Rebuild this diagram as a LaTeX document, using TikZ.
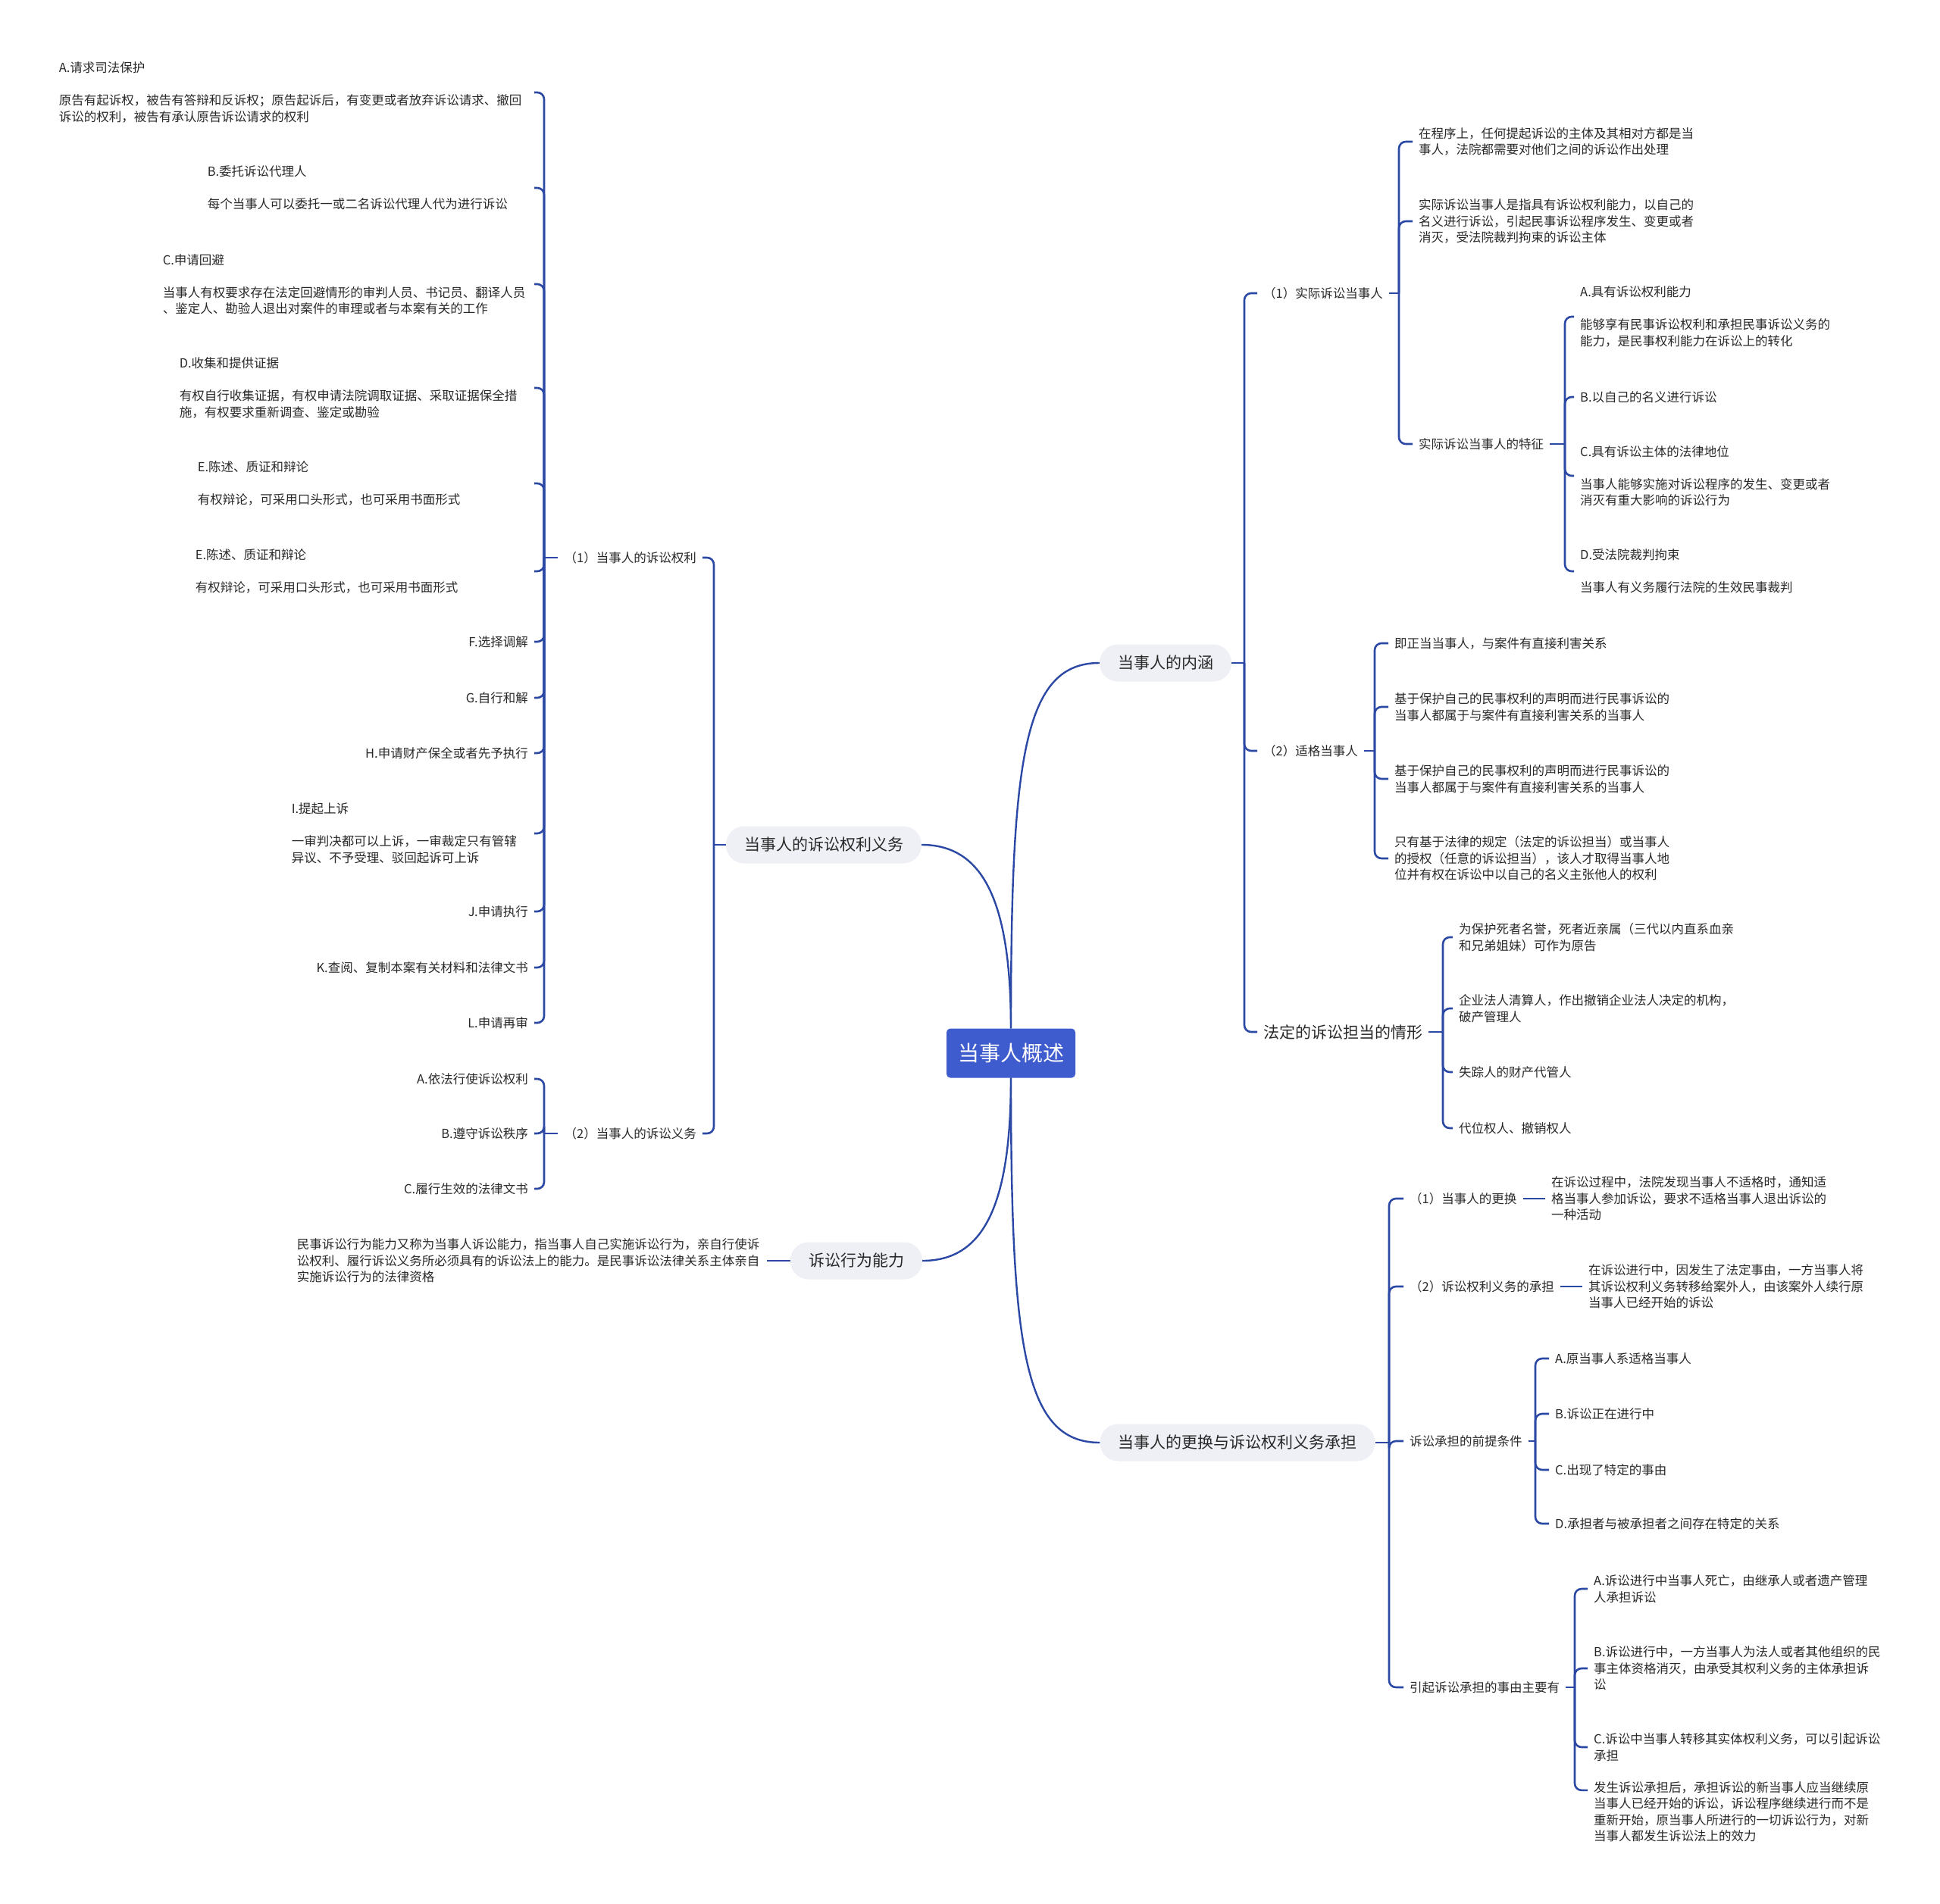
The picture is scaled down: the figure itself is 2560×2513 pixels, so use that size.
\documentclass[tikz,border=0pt]{standalone}
\usepackage{fontspec}
\setmainfont{Noto Sans CJK SC}
\usepackage{xcolor}
\usepackage{tikz}
\definecolor{lineblue}{RGB}{43,72,165}
\definecolor{rootblue}{RGB}{62,92,205}
\definecolor{pillgray}{RGB}{238,240,245}
\definecolor{inkgray}{RGB}{40,40,40}

\begin{document}
\begin{tikzpicture}[
  x=1pt, y=-1pt,
  rootbox/.style={fill=rootblue, rounded corners=5pt, text=white, font=\fontsize{28}{34}\selectfont, minimum width=170pt, minimum height=65pt},
  topicbox/.style={fill=pillgray, rounded corners=24pt, text=inkgray, font=\fontsize{21}{26}\selectfont, minimum height=49pt, inner xsep=24pt},
  leafbox/.style={text=inkgray, font=\fontsize{16.5}{21.5}\selectfont, inner xsep=8pt, inner ysep=2pt, align=left},
  bigbox/.style={leafbox, font=\fontsize{21}{26}\selectfont},
  link/.style={draw=lineblue, line width=2.6pt, rounded corners=9pt},
  rootlink/.style={draw=lineblue, line width=2.4pt}]
  \useasboundingbox (0,0) rectangle (2560,2513);

  % centre and main topics
  \node[rootbox] (root) at (1334,1390) {当事人概述};
  \node[topicbox] (nh) at (1538,875) {当事人的内涵};
  \node[topicbox] (qy) at (1087,1115) {当事人的诉讼权利义务};
  \node[topicbox] (xw) at (1130,1664) {诉讼行为能力};
  \node[topicbox] (gh) at (1633,1904) {当事人的更换与诉讼权利义务承担};
  \draw[rootlink] (root.north) .. controls +(0,-357) and +(-100,0) .. (nh.west);
  \draw[rootlink] (root.north) .. controls +(0,-170) and +(80,0) .. (qy.east);
  \draw[rootlink] (root.south) .. controls +(0,170) and +(80,0) .. (xw.east);
  \draw[rootlink] (root.south) .. controls +(0,357) and +(-100,0) .. (gh.west);

  % left: rights and duties
  \coordinate (sqy) at (942,1115);
  \node[leafbox, anchor=east] (ql) at (927,736) {（1）当事人的诉讼权利};
  \node[leafbox, anchor=east] (qd) at (927,1496) {（2）当事人的诉讼义务};
  \draw[link] (qy.west) -- (sqy);
  \draw[link] (sqy) |- (ql.east);
  \draw[link] (sqy) |- (qd.east);

  \coordinate (sql) at (718,736);
  \node[leafbox, anchor=east, text width=619pt] (pa) at (705,122) {A.请求司法保护\\[21.5pt]原告有起诉权，被告有答辩和反诉权；原告起诉后，有变更或者放弃诉讼请求、撤回\\诉讼的权利，被告有承认原告诉讼请求的权利};
  \node[leafbox, anchor=east, text width=423pt] (pb) at (705,248) {B.委托诉讼代理人\\[21.5pt]每个当事人可以委托一或二名诉讼代理人代为进行诉讼};
  \node[leafbox, anchor=east, text width=482pt] (pc) at (705,375) {C.申请回避\\[21.5pt]当事人有权要求存在法定回避情形的审判人员、书记员、翻译人员\\、鉴定人、勘验人退出对案件的审理或者与本案有关的工作};
  \node[leafbox, anchor=east, text width=460pt] (pd) at (705,512) {D.收集和提供证据\\[21.5pt]有权自行收集证据，有权申请法院调取证据、采取证据保全措\\施，有权要求重新调查、鉴定或勘验};
  \node[leafbox, anchor=east, text width=436pt] (pe) at (705,638) {E.陈述、质证和辩论\\[21.5pt]有权辩论，可采用口头形式，也可采用书面形式};
  \node[leafbox, anchor=east, text width=439pt] (pe2) at (705,754) {E.陈述、质证和辩论\\[21.5pt]有权辩论，可采用口头形式，也可采用书面形式};
  \node[leafbox, anchor=east] (pf) at (705,847) {F.选择调解};
  \node[leafbox, anchor=east] (pg) at (705,921) {G.自行和解};
  \node[leafbox, anchor=east] (ph) at (705,994) {H.申请财产保全或者先予执行};
  \node[leafbox, anchor=east, text width=312pt] (pi) at (705,1100) {I.提起上诉\\[21.5pt]一审判决都可以上诉，一审裁定只有管辖\\异议、不予受理、驳回起诉可上诉};
  \node[leafbox, anchor=east] (pj) at (705,1203) {J.申请执行};
  \node[leafbox, anchor=east] (pk) at (705,1277) {K.查阅、复制本案有关材料和法律文书};
  \node[leafbox, anchor=east] (pl) at (705,1350) {L.申请再审};
  \draw[link] (ql.west) -- (sql);
  \draw[link] (sql) |- (pa.east);
  \draw[link] (sql) |- (pb.east);
  \draw[link] (sql) |- (pc.east);
  \draw[link] (sql) |- (pd.east);
  \draw[link] (sql) |- (pe.east);
  \draw[link] (sql) |- (pe2.east);
  \draw[link] (sql) |- (pf.east);
  \draw[link] (sql) |- (pg.east);
  \draw[link] (sql) |- (ph.east);
  \draw[link] (sql) |- (pi.east);
  \draw[link] (sql) |- (pj.east);
  \draw[link] (sql) |- (pk.east);
  \draw[link] (sql) |- (pl.east);

  \coordinate (sqd) at (718,1496);
  \node[leafbox, anchor=east] (da) at (705,1424) {A.依法行使诉讼权利};
  \node[leafbox, anchor=east] (db) at (705,1496) {B.遵守诉讼秩序};
  \node[leafbox, anchor=east] (dc) at (705,1569) {C.履行生效的法律文书};
  \draw[link] (qd.west) -- (sqd);
  \draw[link] (sqd) |- (da.east);
  \draw[link] (sqd) |- (db.east);
  \draw[link] (sqd) |- (dc.east);

  % left: capacity
  \node[leafbox, anchor=east, text width=612pt] (xwd) at (1012,1664) {民事诉讼行为能力又称为当事人诉讼能力，指当事人自己实施诉讼行为，亲自行使诉\\讼权利、履行诉讼义务所必须具有的诉讼法上的能力。是民事诉讼法律关系主体亲自\\实施诉讼行为的法律资格};
  \draw[link] (xw.west) -- (xwd.east);

  % right: meaning of party
  \coordinate (snh) at (1642,875);
  \node[leafbox, anchor=west] (sj) at (1659,387) {（1）实际诉讼当事人};
  \node[leafbox, anchor=west] (sg) at (1659,991) {（2）适格当事人};
  \node[bigbox, anchor=west] (fd) at (1659,1362) {法定的诉讼担当的情形};
  \draw[link] (nh.east) -- (snh);
  \draw[link] (snh) |- (sj.west);
  \draw[link] (snh) |- (sg.west);
  \draw[link] (snh) |- (fd.west);

  \coordinate (ssj) at (1846,387);
  \node[leafbox, anchor=west] (sja) at (1864,187) {在程序上，任何提起诉讼的主体及其相对方都是当\\事人，法院都需要对他们之间的诉讼作出处理};
  \node[leafbox, anchor=west] (sjb) at (1864,292) {实际诉讼当事人是指具有诉讼权利能力，以自己的\\名义进行诉讼，引起民事诉讼程序发生、变更或者\\消灭，受法院裁判拘束的诉讼主体};
  \node[leafbox, anchor=west] (tz) at (1864,586) {实际诉讼当事人的特征};
  \draw[link] (sj.east) -- (ssj);
  \draw[link] (ssj) |- (sja.west);
  \draw[link] (ssj) |- (sjb.west);
  \draw[link] (ssj) |- (tz.west);

  \coordinate (stz) at (2065,586);
  \node[leafbox, anchor=west] (tza) at (2077,418) {A.具有诉讼权利能力\\[21.5pt]能够享有民事诉讼权利和承担民事诉讼义务的\\能力，是民事权利能力在诉讼上的转化};
  \node[leafbox, anchor=west] (tzb) at (2077,524) {B.以自己的名义进行诉讼};
  \node[leafbox, anchor=west] (tzc) at (2077,628) {C.具有诉讼主体的法律地位\\[21.5pt]当事人能够实施对诉讼程序的发生、变更或者\\消灭有重大影响的诉讼行为};
  \node[leafbox, anchor=west] (tzd) at (2077,754) {D.受法院裁判拘束\\[21.5pt]当事人有义务履行法院的生效民事裁判};
  \draw[link] (tz.east) -- (stz);
  \draw[link] (stz) |- (tza.west);
  \draw[link] (stz) |- (tzb.west);
  \draw[link] (stz) |- (tzc.west);
  \draw[link] (stz) |- (tzd.west);

  \coordinate (ssg) at (1814,991);
  \node[leafbox, anchor=west] (sga) at (1832,849) {即正当当事人，与案件有直接利害关系};
  \node[leafbox, anchor=west] (sgb) at (1832,933) {基于保护自己的民事权利的声明而进行民事诉讼的\\当事人都属于与案件有直接利害关系的当事人};
  \node[leafbox, anchor=west] (sgc) at (1832,1028) {基于保护自己的民事权利的声明而进行民事诉讼的\\当事人都属于与案件有直接利害关系的当事人};
  \node[leafbox, anchor=west] (sgd) at (1832,1133) {只有基于法律的规定（法定的诉讼担当）或当事人\\的授权（任意的诉讼担当），该人才取得当事人地\\位并有权在诉讼中以自己的名义主张他人的权利};
  \draw[link] (sg.east) -- (ssg);
  \draw[link] (ssg) |- (sga.west);
  \draw[link] (ssg) |- (sgb.west);
  \draw[link] (ssg) |- (sgc.west);
  \draw[link] (ssg) |- (sgd.west);

  \coordinate (sfd) at (1904,1362);
  \node[leafbox, anchor=west] (fda) at (1917,1237) {为保护死者名誉，死者近亲属（三代以内直系血亲\\和兄弟姐妹）可作为原告};
  \node[leafbox, anchor=west] (fdb) at (1917,1331) {企业法人清算人，作出撤销企业法人决定的机构，\\破产管理人};
  \node[leafbox, anchor=west] (fdc) at (1917,1415) {失踪人的财产代管人};
  \node[leafbox, anchor=west] (fdd) at (1917,1489) {代位权人、撤销权人};
  \draw[link] (fd.east) -- (sfd);
  \draw[link] (sfd) |- (fda.west);
  \draw[link] (sfd) |- (fdb.west);
  \draw[link] (sfd) |- (fdc.west);
  \draw[link] (sfd) |- (fdd.west);

  % right: change and succession
  \coordinate (sgh) at (1833,1904);
  \node[leafbox, anchor=west] (hg) at (1852,1582) {（1）当事人的更换};
  \node[leafbox, anchor=west] (cd) at (1852,1698) {（2）诉讼权利义务的承担};
  \node[leafbox, anchor=west] (qt) at (1852,1902) {诉讼承担的前提条件};
  \node[leafbox, anchor=west] (sy) at (1852,2227) {引起诉讼承担的事由主要有};
  \draw[link] (gh.east) -- (sgh);
  \draw[link] (sgh) |- (hg.west);
  \draw[link] (sgh) |- (cd.west);
  \draw[link] (sgh) |- (qt.west);
  \draw[link] (sgh) |- (sy.west);

  \node[leafbox, anchor=west] (hgd) at (2039,1582) {在诉讼过程中，法院发现当事人不适格时，通知适\\格当事人参加诉讼，要求不适格当事人退出诉讼的\\一种活动};
  \node[leafbox, anchor=west] (cdd) at (2088,1698) {在诉讼进行中，因发生了法定事由，一方当事人将\\其诉讼权利义务转移给案外人，由该案外人续行原\\当事人已经开始的诉讼};
  \draw[link] (hg.east) -- (hgd.west);
  \draw[link] (cd.east) -- (cdd.west);

  \coordinate (sqt) at (2026,1902);
  \node[leafbox, anchor=west] (qta) at (2044,1793) {A.原当事人系适格当事人};
  \node[leafbox, anchor=west] (qtb) at (2044,1866) {B.诉讼正在进行中};
  \node[leafbox, anchor=west] (qtc) at (2044,1940) {C.出现了特定的事由};
  \node[leafbox, anchor=west] (qtd) at (2044,2011) {D.承担者与被承担者之间存在特定的关系};
  \draw[link] (qt.east) -- (sqt);
  \draw[link] (sqt) |- (qta.west);
  \draw[link] (sqt) |- (qtb.west);
  \draw[link] (sqt) |- (qtc.west);
  \draw[link] (sqt) |- (qtd.west);

  \coordinate (ssy) at (2078,2227);
  \node[leafbox, anchor=west] (sya) at (2095,2097) {A.诉讼进行中当事人死亡，由继承人或者遗产管理\\人承担诉讼};
  \node[leafbox, anchor=west] (syb) at (2095,2202) {B.诉讼进行中，一方当事人为法人或者其他组织的民\\事主体资格消灭，由承受其权利义务的主体承担诉\\讼};
  \node[leafbox, anchor=west] (syc) at (2095,2306) {C.诉讼中当事人转移其实体权利义务，可以引起诉讼\\承担};
  \node[leafbox, anchor=west] (syd) at (2095,2391) {发生诉讼承担后，承担诉讼的新当事人应当继续原\\当事人已经开始的诉讼，诉讼程序继续进行而不是\\重新开始，原当事人所进行的一切诉讼行为，对新\\当事人都发生诉讼法上的效力};
  \draw[link] (sy.east) -- (ssy);
  \draw[link] (ssy) |- (sya.west);
  \draw[link] (ssy) |- (syb.west);
  \draw[link] (ssy) |- (syc.west);
  \draw[link] (ssy) |- ([yshift=-14pt]syd.north west);
\end{tikzpicture}
\end{document}
